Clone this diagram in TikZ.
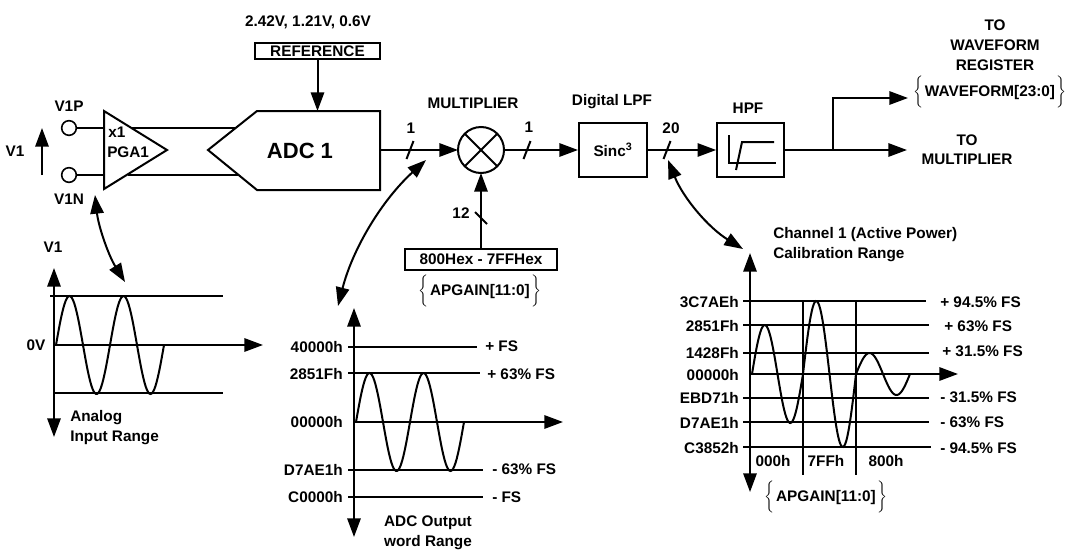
\documentclass[tikz,border=0pt]{standalone}
\usepackage{fontspec}
\setmainfont{Liberation Sans}
\usetikzlibrary{arrows.meta}
\newcommand{\lblfont}{\bfseries\fontsize{11.5}{15}\selectfont}
\newcommand{\regbrace}[1]{$\left\{\rule[-9pt]{0pt}{24pt}\right.$#1$\left.\rule[-9pt]{0pt}{24pt}\right\}$}
\tikzset{
	lbl/.style={font=\lblfont,inner sep=0pt},
	blk/.style={draw,line width=1.5pt,inner sep=0pt,font=\lblfont},
	pin/.style={circle,draw,line width=1.2pt,minimum size=11pt,inner sep=0pt},
	wire/.style={line width=1.5pt},
	grid/.style={line width=0.9pt},
	sig/.style={line width=1.5pt,->},
	axis/.style={line width=1.5pt,<->},
	dbl/.style={line width=1.5pt,<->}
}
\begin{document}
\begin{tikzpicture}[x=0.75pt,y=-0.75pt,>={Triangle[length=14pt,width=10pt]}]
	\useasboundingbox (0,0) rectangle (1069,550);

	\node [lbl] (refv) at (308,22) {2.42V, 1.21V, 0.6V};
	\node [blk,minimum width=93.75pt,minimum height=12pt] (ref) at (317.5,51) {REFERENCE};

	\coordinate (adcTip) at (208,150);
	\coordinate (adcTL) at (257,111);
	\coordinate (adcTR) at (380,111);
	\coordinate (adcBR) at (380,190);
	\coordinate (adcBL) at (257,190);
	\coordinate (adcOut) at (380,150);
	\coordinate (adcI1) at (236,128);
	\coordinate (adcI2) at (238,175);
	\draw [wire] (adcTip) -- (adcTL) -- (adcTR) -- (adcBR) -- (adcBL) -- cycle;
	\node [lbl,font=\bfseries\fontsize{16.5}{20}\selectfont] (adc) at (300,151) {ADC 1};
	\draw [sig] (ref) -- (ref |- adcTR);

	\coordinate (pgaT) at (104,111);
	\coordinate (pgaTip) at (167,150);
	\coordinate (pgaB) at (104,189);
	\coordinate (pgaO1) at (132,128);
	\coordinate (pgaO2) at (128,175);
	\draw [wire] (pgaT) -- (pgaTip) -- (pgaB) -- cycle;
	\node [lbl,anchor=west] (gain) at (108,132) {x1};
	\node [lbl,anchor=west] (pga) at (107,152) {PGA1};
	\draw [wire] (pgaO1) -- (adcI1);
	\draw [wire] (pgaO2) -- (adcI2);

	\node [pin] (v1p) at (69,128) {};
	\node [pin] (v1n) at (69,175) {};
	\node [lbl] (v1pl) at (69,106) {V1P};
	\node [lbl] (v1nl) at (69,199) {V1N};
	\draw [wire] (v1p) -- (pgaT |- v1p);
	\draw [wire] (v1n) -- (pgaT |- v1n);
	\coordinate (v1a) at (42,175);
	\coordinate (v1b) at (42,128);
	\draw [sig] (v1a) -- (v1b);
	\node [lbl] (v1) at (15,151) {V1};

	\node [pin,line width=1.5pt,minimum size=34.5pt,outer sep=0pt] (mult) at (481,150) {};
	\draw [wire] (mult.north west) -- (mult.south east);
	\draw [wire] (mult.north east) -- (mult.south west);
	\node [lbl] (multl) at (473,103) {MULTIPLIER};
	\node [blk,minimum width=51pt,minimum height=40.5pt] (sinc) at (613,150) {Sinc\textsuperscript{3}};
	\node [lbl] (lpf) at (612,102) {Digital LPF};
	\node [blk,minimum width=50pt,minimum height=40pt] (hpf) at (750.5,150) {};
	\node [lbl] (hpfl) at (748,108) {HPF};
	\draw [wire] (729,135) -- (729,163) -- (776,163);
	\draw [wire] (736,170) -- (742,142) -- (774,142);

	\draw [sig] (adcOut) -- (mult);
	\draw [sig] (mult) -- (sinc);
	\draw [sig] (sinc) -- (hpf);
	\draw [wire] (406.5,159) -- (413.5,141);
	\draw [wire] (523.5,159) -- (530.5,141);
	\draw [wire] (663.5,159) -- (670.5,141);
	\node [lbl] (w1) at (411,128) {1};
	\node [lbl] (w2) at (529,127) {1};
	\node [lbl] (w3) at (671,128) {20};

	\node [blk,minimum width=114pt,minimum height=15.75pt] (hex) at (481,259.5) {800Hex - 7FFHex};
	\node [lbl] (hexreg) at (480,291) {\regbrace{APGAIN[11:0]}};
	\draw [sig] (hex) -- (mult);
	\draw [wire] (475,212) -- (487,224);
	\node [lbl] (w4) at (461,213) {12};

	\coordinate (split) at (833,150);
	\coordinate (outMul) at (907,150);
	\coordinate (outWav) at (908,98);
	\draw [sig] (hpf) -- (outMul);
	\draw [sig] (split) |- (outWav);
	\node [lbl,align=center] (towav) at (995,45) {TO\\WAVEFORM\\REGISTER};
	\node [lbl] (wavreg) at (990,92) {\regbrace{WAVEFORM[23:0]}};
	\node [lbl,align=center,font=\bfseries\fontsize{11.5}{14.5}\selectfont] (tomul) at (967,150) {TO\\MULTIPLIER};

	\coordinate (c1a) at (95,195);
	\coordinate (c1b) at (125,282);
	\draw [dbl] (c1a) .. controls (98.4,226.3) and (108.4,255.3) .. (c1b);
	\coordinate (c2a) at (426,160);
	\coordinate (c2b) at (338,306);
	\draw [dbl] (c2a) .. controls (382.1,199.9) and (352.7,248.5) .. (c2b);
	\coordinate (c3a) at (668,160);
	\coordinate (c3b) at (743,249);
	\draw [dbl] (c3a) .. controls (683.2,197.9) and (708.2,227.5) .. (c3b);

	\coordinate (aTop) at (54,268);
	\coordinate (aBot) at (54,437);
	\coordinate (aO) at (54,345);
	\coordinate (aEnd) at (263,345);
	\draw [axis] (aBot) -- (aTop);
	\draw [sig] (aO) -- (aEnd);
	\draw [grid] (50,296) -- (223,296);
	\draw [grid] (53,393) -- (223,393);
	\draw [wire] plot [domain=0:108,samples=90] ({56+\x},{345-49*sin((\x/54)*360)});
	\node [lbl] (av1) at (53,247) {V1};
	\node [lbl] (a0v) at (36,345) {0V};
	\node [lbl,anchor=west,align=left,font=\bfseries\fontsize{11.5}{15}\selectfont] (arng) at (70,428) {Analog\\Input Range};

	\coordinate (dTop) at (354,308);
	\coordinate (dBot) at (354,537);
	\coordinate (dO) at (354,422);
	\coordinate (dEnd) at (563,422);
	\draw [axis] (dBot) -- (dTop);
	\draw [sig] (dO) -- (dEnd);
	\draw [grid] (348,347) -- (477,347);
	\draw [grid] (348,373) -- (480,373);
	\draw [grid] (348,470) -- (483,470);
	\draw [grid] (348,497) -- (483,497);
	\draw [wire] plot [domain=0:108,samples=90] ({356+\x},{422-49*sin((\x/54)*360)});
	\node [lbl,anchor=east] (d1) at (343,347) {40000h};
	\node [lbl,anchor=east] (d2) at (343,374) {2851Fh};
	\node [lbl,anchor=east] (d3) at (343,422) {00000h};
	\node [lbl,anchor=east] (d4) at (343,470) {D7AE1h};
	\node [lbl,anchor=east] (d5) at (343,497) {C0000h};
	\node [lbl,anchor=west] (e1) at (485,346) {+ FS};
	\node [lbl,anchor=west] (e2) at (487,374) {+ 63\% FS};
	\node [lbl,anchor=west] (e4) at (492,469) {- 63\% FS};
	\node [lbl,anchor=west] (e5) at (492,497) {- FS};
	\node [lbl,align=center] (drng) at (428,533) {ADC Output\\word Range};

	\coordinate (cTop) at (750,253);
	\coordinate (cBot) at (750,492);
	\coordinate (cO) at (750,374);
	\coordinate (cEnd) at (958,374);
	\draw [axis] (cBot) -- (cTop);
	\draw [sig] (cO) -- (cEnd);
	\draw [grid] (743,301) -- (926,301);
	\draw [grid] (743,325) -- (929,325);
	\draw [grid] (743,353) -- (929,353);
	\draw [grid] (743,398) -- (929,398);
	\draw [grid] (743,422) -- (929,422);
	\draw [grid] (743,447) -- (931,447);
	\draw [grid] (803,301) -- (803,475);
	\draw [grid] (856,301) -- (856,475);
	\draw [wire] plot [domain=0:51,samples=50] ({752+\x},{374-49*sin((\x/51)*360)});
	\draw [wire] plot [domain=0:53,samples=50] ({803+\x},{374-73*sin((\x/53)*360)});
	\draw [wire] plot [domain=0:54,samples=50] ({856+\x},{374-21*sin((\x/54)*360)});
	\node [lbl,anchor=east] (k1) at (739,302) {3C7AEh};
	\node [lbl,anchor=east] (k2) at (739,326) {2851Fh};
	\node [lbl,anchor=east] (k3) at (739,353) {1428Fh};
	\node [lbl,anchor=east] (k4) at (739,375) {00000h};
	\node [lbl,anchor=east] (k5) at (739,398) {EBD71h};
	\node [lbl,anchor=east] (k6) at (739,423) {D7AE1h};
	\node [lbl,anchor=east] (k7) at (739,448) {C3852h};
	\node [lbl,anchor=west] (p1) at (940,302) {+ 94.5\% FS};
	\node [lbl,anchor=west] (p2) at (944,326) {+ 63\% FS};
	\node [lbl,anchor=west] (p3) at (942,351) {+ 31.5\% FS};
	\node [lbl,anchor=west] (p5) at (940,397) {- 31.5\% FS};
	\node [lbl,anchor=west] (p6) at (940,422) {- 63\% FS};
	\node [lbl,anchor=west] (p7) at (940,448) {- 94.5\% FS};
	\node [lbl] (g1) at (773,461) {000h};
	\node [lbl] (g2) at (826,461) {7FFh};
	\node [lbl] (g3) at (886,461) {800h};
	\node [lbl] (creg) at (826,497) {\regbrace{APGAIN[11:0]}};
	\node [lbl,anchor=west,align=left,font=\bfseries\fontsize{11.5}{14.5}\selectfont] (cttl) at (773,244.5) {Channel 1 (Active Power)\\Calibration Range};
\end{tikzpicture}
\end{document}
